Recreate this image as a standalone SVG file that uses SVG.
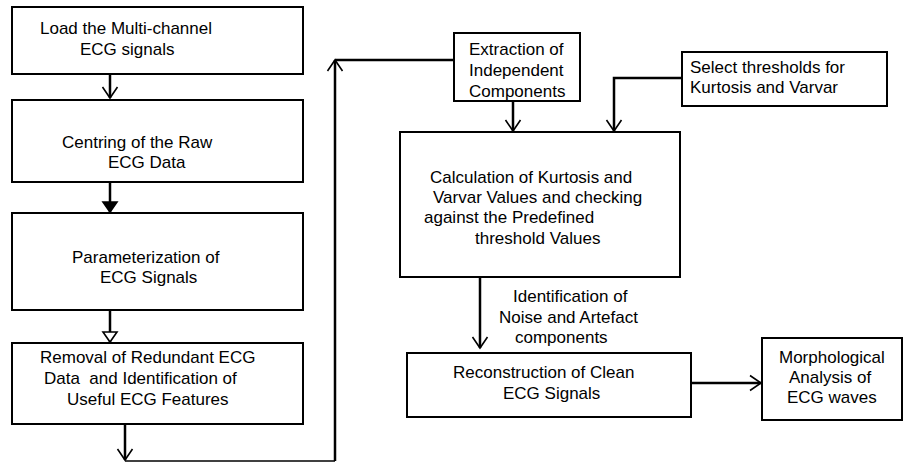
<svg xmlns="http://www.w3.org/2000/svg" width="912" height="463" viewBox="0 0 912 463">
  <style>
    .box { fill: #ffffff; stroke: #000000; stroke-width: 2; }
    .lbl { font-family: "Liberation Sans", Arial, sans-serif; font-size: 17px; fill: #000000; }
    .con { fill: none; stroke: #000000; stroke-width: 2.5; }
    .thin { fill: none; stroke: #000000; stroke-width: 1.5; }
  </style>
  <defs>
    <marker id="v" viewBox="-13 -9 15 18" refX="0" refY="0" markerWidth="15" markerHeight="18" markerUnits="userSpaceOnUse" orient="auto">
      <path d="M-11,-7.5 L0,0 L-11,7.5" fill="none" stroke="#000" stroke-width="1.6"/>
    </marker>
    <marker id="tri" viewBox="-13 -9 15 18" refX="0" refY="0" markerWidth="15" markerHeight="18" markerUnits="userSpaceOnUse" orient="auto">
      <path d="M-10,-7 L0,0 L-10,7 Z" fill="#000" stroke="#000" stroke-width="1.6"/>
    </marker>
    <marker id="otri" viewBox="-13 -9 15 18" refX="0" refY="0" markerWidth="15" markerHeight="18" markerUnits="userSpaceOnUse" orient="auto">
      <path d="M-10,-7 L0,0 L-10,7 Z" fill="#fff" stroke="#000" stroke-width="1.6"/>
    </marker>
  </defs>
  <rect width="912" height="463" fill="#ffffff"/>

  <g id="connectors">
    <path class="con" d="M110,74 V98" marker-end="url(#v)"/>
    <path class="con" d="M110,182 V212" marker-end="url(#tri)"/>
    <path class="con" d="M110,310 V342" marker-end="url(#otri)"/>
    <path class="con" d="M125,424 V460" marker-end="url(#v)"/>
    <path class="thin" d="M125,461 H335"/>
    <path class="con" d="M335,461 V60" marker-end="url(#v)"/>
    <path class="con" d="M335,60 H454"/>
    <path class="con" d="M513,101 V131" marker-end="url(#v)"/>
    <path class="con" d="M682,78 H614 V131" marker-end="url(#v)"/>
    <path class="con" d="M480,277 V348" marker-end="url(#v)"/>
    <path class="con" d="M691,383 H761" marker-end="url(#v)"/>
  </g>

  <g id="load">
    <rect class="box" x="12" y="7" width="291" height="67"/>
    <text class="lbl" x="40" y="34">Load the Multi-channel</text>
    <text class="lbl" x="80" y="55">ECG signals</text>
  </g>

  <g id="centring">
    <rect class="box" x="12" y="100" width="291" height="82"/>
    <text class="lbl" x="62" y="148">Centring of the Raw</text>
    <text class="lbl" x="108" y="168">ECG Data</text>
  </g>

  <g id="parameterization">
    <rect class="box" x="12" y="213" width="291" height="97"/>
    <text class="lbl" x="72" y="263">Parameterization of</text>
    <text class="lbl" x="100" y="283">ECG Signals</text>
  </g>

  <g id="removal">
    <rect class="box" x="12" y="343" width="291" height="81"/>
    <text class="lbl" x="40" y="363">Removal of Redundant ECG</text>
    <text class="lbl" x="44" y="384" xml:space="preserve">Data  and Identification of</text>
    <text class="lbl" x="67" y="405">Useful ECG Features</text>
  </g>

  <g id="extraction">
    <rect class="box" x="454" y="33" width="126" height="68"/>
    <text class="lbl" x="469" y="55">Extraction of</text>
    <text class="lbl" x="469" y="76">Independent</text>
    <text class="lbl" x="469" y="97">Components</text>
  </g>

  <g id="select">
    <rect class="box" x="682" y="52" width="205" height="54"/>
    <text class="lbl" x="690" y="73">Select thresholds for</text>
    <text class="lbl" x="690" y="93">Kurtosis and Varvar</text>
  </g>

  <g id="calculation">
    <rect class="box" x="400" y="132" width="280" height="145"/>
    <text class="lbl" x="430" y="183">Calculation of Kurtosis and</text>
    <text class="lbl" x="433" y="203">Varvar Values and checking</text>
    <text class="lbl" x="424" y="223">against the Predefined</text>
    <text class="lbl" x="475" y="244">threshold Values</text>
  </g>

  <g id="noise-label">
    <text class="lbl" x="513" y="302">Identification of</text>
    <text class="lbl" x="499" y="323">Noise and Artefact</text>
    <text class="lbl" x="515" y="343">components</text>
  </g>

  <g id="reconstruction">
    <rect class="box" x="407" y="353" width="284" height="64"/>
    <text class="lbl" x="453" y="378">Reconstruction of Clean</text>
    <text class="lbl" x="503" y="399">ECG Signals</text>
  </g>

  <g id="morphological">
    <rect class="box" x="762" y="338" width="140" height="82"/>
    <text class="lbl" x="779" y="363">Morphological</text>
    <text class="lbl" x="789" y="383">Analysis of</text>
    <text class="lbl" x="787" y="403">ECG waves</text>
  </g>
</svg>
